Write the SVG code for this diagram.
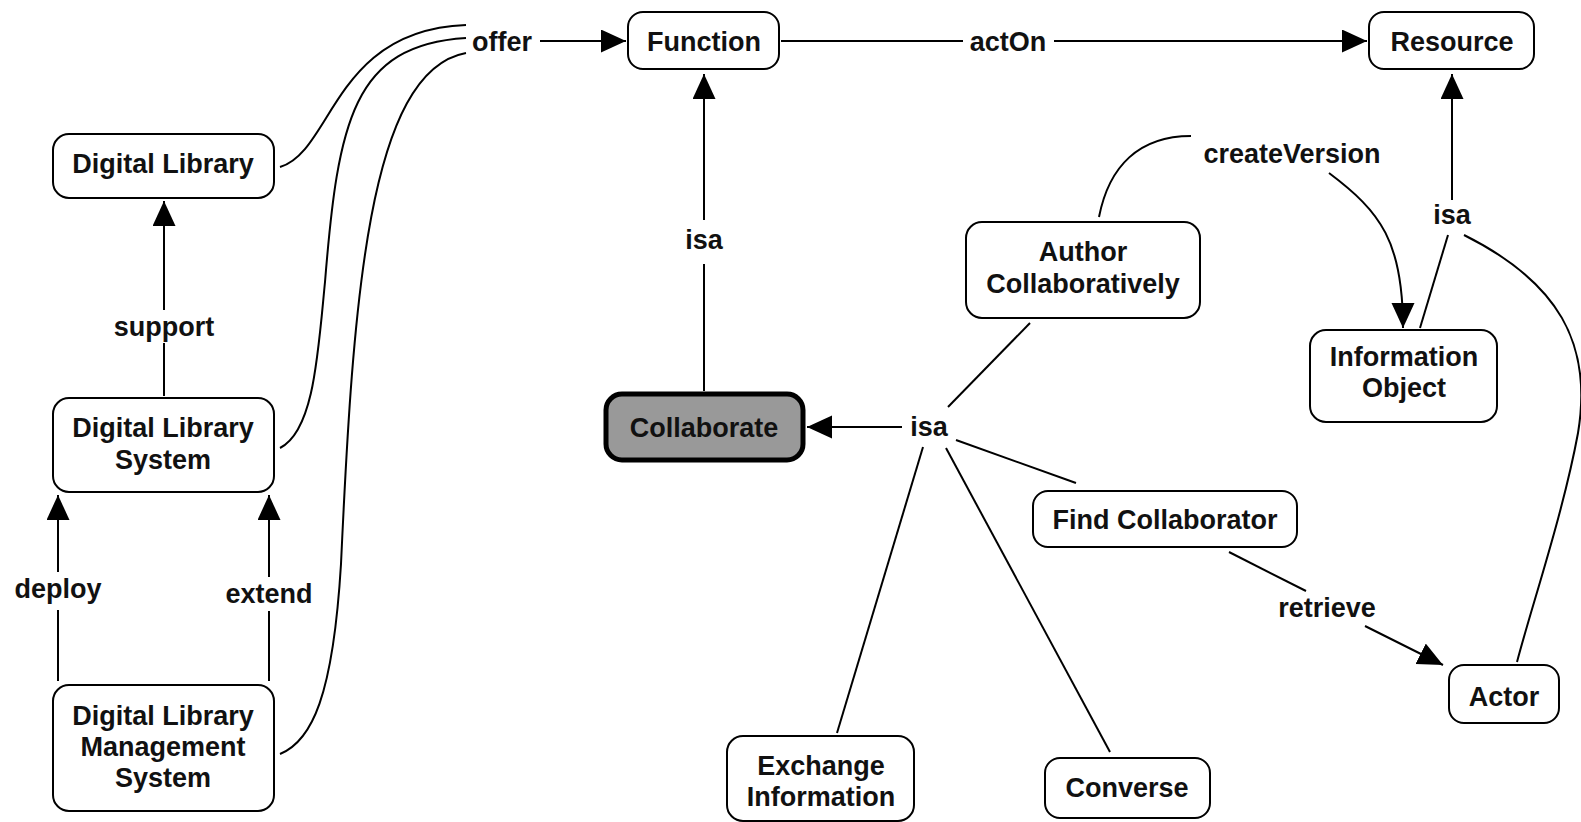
<svg xmlns="http://www.w3.org/2000/svg" width="1581" height="822" viewBox="0 0 1581 822">
<style>
.node rect{fill:#fff;stroke:#000;stroke-width:2}
#collaborate rect{fill:#999;stroke:#000;stroke-width:5}
text{font-family:"Liberation Sans",Arial,sans-serif;font-weight:bold;font-size:27px;fill:#111;text-anchor:middle}
#connectors path{fill:none;stroke:#000;stroke-width:2}
</style>
<defs>
<marker id="arr" markerUnits="userSpaceOnUse" markerWidth="27" markerHeight="25" refX="25" refY="11.5" orient="auto">
<path d="M0,0 L25,11.5 L0,23 z" fill="#000"/>
</marker>
</defs>
<rect width="1581" height="822" fill="#fff"/>
<g id="connectors">
<path d="M280,167 C333,151 333,30 466,25"/>
<path d="M280,448 C314,431 318,353 325,282 C338,121 353,45 466,38"/>
<path d="M280,754 C312,741 333,696 341,564 C353,302 368,71 466,53"/>
<path d="M540,41 L626,41" marker-end="url(#arr)"/>
<path d="M781,41 L963,41"/>
<path d="M1054,41 L1367,41" marker-end="url(#arr)"/>
<path d="M704,391 L704,264"/>
<path d="M704,220 L704,74" marker-end="url(#arr)"/>
<path d="M164,396 L164,343"/>
<path d="M164,310 L164,201" marker-end="url(#arr)"/>
<path d="M58,681 L58,610"/>
<path d="M58,572 L58,495" marker-end="url(#arr)"/>
<path d="M269,681 L269,611"/>
<path d="M269,577 L269,495" marker-end="url(#arr)"/>
<path d="M902,427 L807,427" marker-end="url(#arr)"/>
<path d="M1030,323 L948,407"/>
<path d="M1076,483 L956,440"/>
<path d="M837,733 L923,447"/>
<path d="M1110,752 L946,448"/>
<path d="M1099,217 C1109,166 1139,136 1191,136"/>
<path d="M1329,173 C1381,212 1403,242 1403,328" marker-end="url(#arr)"/>
<path d="M1420,328 L1448,235"/>
<path d="M1452,200 L1452,74" marker-end="url(#arr)"/>
<path d="M1464,235 C1558,282 1593,343 1578,433 C1563,514 1532,605 1517,662"/>
<path d="M1229,552 L1306,591"/>
<path d="M1365,626 L1443,665" marker-end="url(#arr)"/>
</g>
<g id="labels">
<text x="502" y="51">offer</text>
<text x="1008" y="51">actOn</text>
<text x="704" y="249">isa</text>
<text x="164" y="336">support</text>
<text x="58" y="598">deploy</text>
<text x="269" y="603">extend</text>
<text x="929" y="436">isa</text>
<text x="1292" y="163">createVersion</text>
<text x="1452" y="224">isa</text>
<text x="1327" y="617">retrieve</text>
</g>
<g id="function" class="node"><rect x="628" y="12" width="151" height="57" rx="15"/><text x="704" y="51">Function</text></g>
<g id="resource" class="node"><rect x="1369" y="12" width="165" height="57" rx="15"/><text x="1452" y="51">Resource</text></g>
<g id="digital-library" class="node"><rect x="53" y="134" width="221" height="64" rx="16"/><text x="163" y="173">Digital Library</text></g>
<g id="dls" class="node"><rect x="53" y="398" width="221" height="94" rx="16"/><text x="163" y="437">Digital Library</text><text x="163" y="469">System</text></g>
<g id="dlms" class="node"><rect x="53" y="685" width="221" height="126" rx="16"/><text x="163" y="725">Digital Library</text><text x="163" y="756">Management</text><text x="163" y="787">System</text></g>
<g id="collaborate" class="node"><rect x="606" y="394" width="197" height="66" rx="16"/><text x="704" y="437">Collaborate</text></g>
<g id="author" class="node"><rect x="966" y="222" width="234" height="96" rx="16"/><text x="1083" y="261">Author</text><text x="1083" y="293">Collaboratively</text></g>
<g id="infoobject" class="node"><rect x="1310" y="330" width="187" height="92" rx="16"/><text x="1404" y="366">Information</text><text x="1404" y="397">Object</text></g>
<g id="findcollab" class="node"><rect x="1033" y="491" width="264" height="56" rx="15"/><text x="1165" y="529">Find Collaborator</text></g>
<g id="actor" class="node"><rect x="1449" y="665" width="110" height="58" rx="15"/><text x="1504" y="706">Actor</text></g>
<g id="exchange" class="node"><rect x="727" y="736" width="187" height="85" rx="16"/><text x="821" y="775">Exchange</text><text x="821" y="806">Information</text></g>
<g id="converse" class="node"><rect x="1045" y="758" width="165" height="60" rx="15"/><text x="1127" y="797">Converse</text></g>
</svg>
